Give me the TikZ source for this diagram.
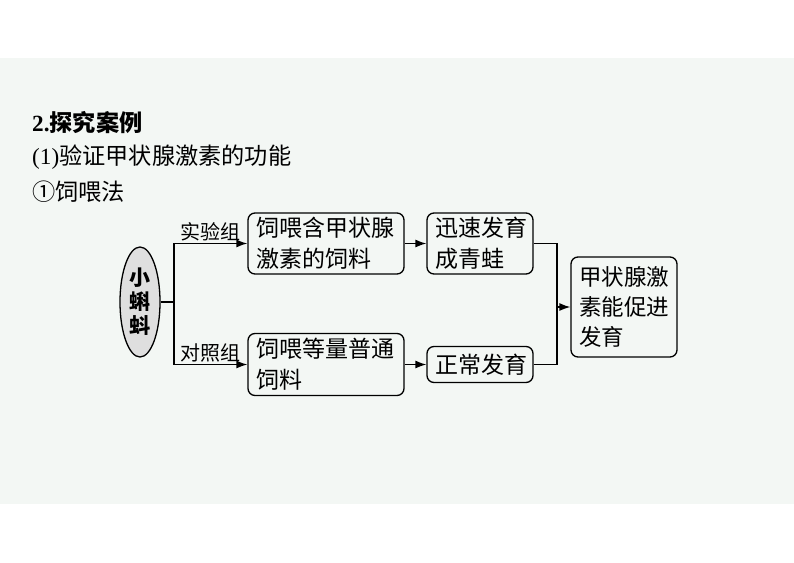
\documentclass[tikz,border=0pt]{standalone}
\usepackage{fontspec}
\setmainfont{Noto Sans CJK SC}
\newfontfamily\latin{Liberation Serif}
\usepackage{tikz}
\usetikzlibrary{shapes,arrows.meta}
\definecolor{band}{RGB}{243,247,244}

\begin{document}
\begin{tikzpicture}[
        x=1pt, y=-1pt,
        every node/.style={inner sep=0pt},
        box/.style={draw, rounded corners=7pt, line width=1.3pt, align=left, inner xsep=8pt,
            font=\fontsize{23}{31}\selectfont},
        head/.style={anchor=west, font=\fontsize{23.2}{27}\selectfont},
        group/.style={above, inner sep=1.5pt, font=\fontsize{20}{24}\selectfont},
        link/.style={draw, line width=1.3pt},
        >={Latex[length=11pt,width=8pt]}
        ]
    \useasboundingbox (0,0) rectangle (794,562);
    \fill[band] (0,58) rectangle (794,504);
    \node[head] (title) at (32,123) {{\latin\bfseries 2.}\textbf{探究案例}};
    \node[head] (sub) at (32,157) {{\latin (1)}验证甲状腺激素的功能};
    \node[head] (method) at (32,192) {①饲喂法};
    \node[ellipse, draw, fill=gray!25, line width=1.3pt, minimum width=40pt, minimum height=110pt,
        align=center, font=\fontsize{21}{24}\selectfont\bfseries] (tad) at (140,302) {小\\蝌\\蚪};
    \node[box, text width=140pt, minimum height=61pt] (exp) at (326,243.5) {饲喂含甲状腺\\激素的饲料};
    \node[box, text width=140pt, minimum height=62pt] (ctl) at (326,364.5) {饲喂等量普通\\饲料};
    \node[box, text width=90pt, minimum height=61pt] (fast) at (480,243.5) {迅速发育\\成青蛙};
    \node[box, text width=90pt, minimum height=36pt] (normal) at (480,364.5) {正常发育};
    \node[box, text width=90pt, minimum height=100pt, font=\fontsize{22.5}{30}\selectfont] (concl) at (624,307) {甲状腺激\\素能促进\\发育};
    \coordinate (split) at (174,302);
    \coordinate (join) at (557,307);
    \draw[link] (tad.east) -- (split);
    \draw[link, ->] (split) |- node[group, pos=0.75] {实验组} (exp.west);
    \draw[link, ->] (split) |- node[group, pos=0.75] {对照组} (ctl.west);
    \draw[link, ->] (exp) -- (fast);
    \draw[link, ->] (ctl) -- (normal);
    \draw[link] (fast.east) -| (join);
    \draw[link] (normal.east) -| (join);
    \draw[link, ->] (join) -- (concl.west);
\end{tikzpicture}
\end{document}
